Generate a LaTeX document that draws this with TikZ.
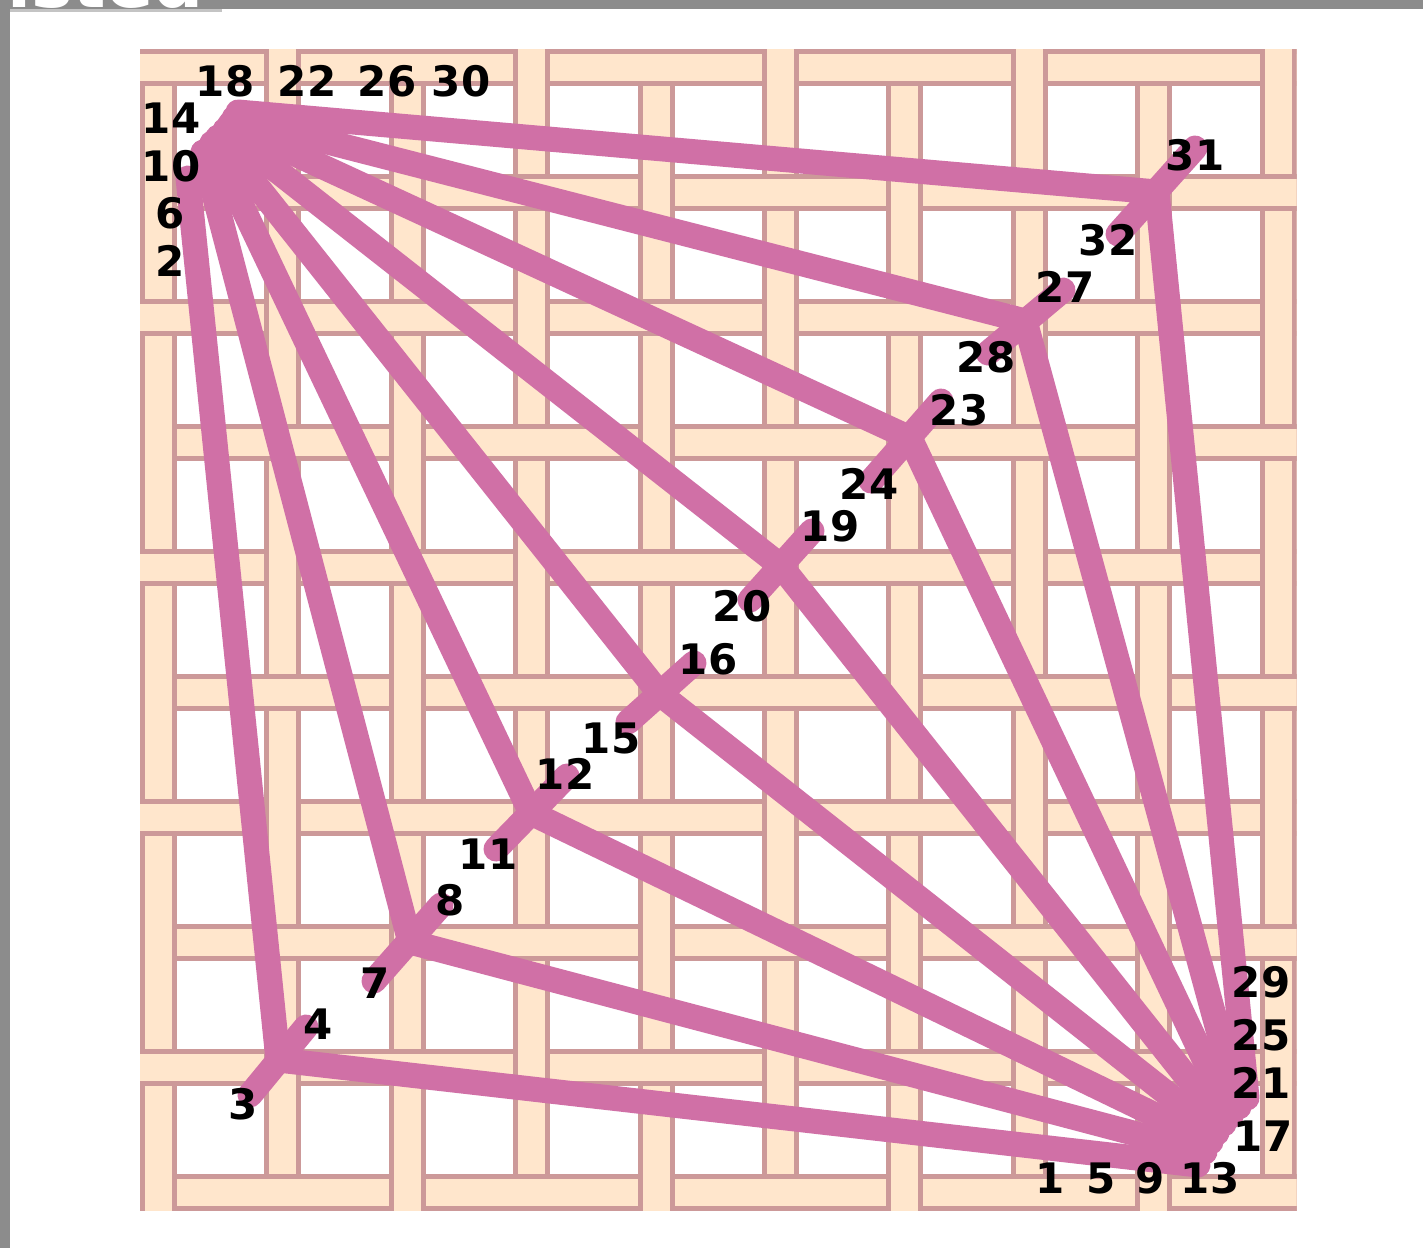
\documentclass[tikz,border=0pt]{standalone}
\usepackage{fontspec}
\setmainfont{DejaVu Sans}
\definecolor{cream}{HTML}{FFE6CC}
\definecolor{strand}{HTML}{CC9999}
\definecolor{pinkl}{HTML}{D070A6}
\definecolor{framegray}{HTML}{8C8C8C}
\definecolor{shadowgray}{HTML}{C4C4C4}
\begin{document}
\begin{tikzpicture}[x=1pt,y=-1pt,
  ray/.style={draw=pinkl, line width=25pt, line cap=round},
  lbl/.style={font=\bfseries\fontsize{42}{42}\selectfont, inner sep=0pt, text=black},
  ttlfont/.style={font=\bfseries\fontsize{70}{70}\selectfont, inner sep=0pt, anchor=base west},
  stripfill/.style={fill=cream},
  stripedge/.style={fill=strand}]
\useasboundingbox (0,0) rectangle (1423,1248);
\fill[white] (0,0) rectangle (1423,1248);
% window frame with the cut-off title
\begin{scope}
  \clip (0,0) rectangle (1423,1248);
  \fill[shadowgray] (10,9) rectangle (222,12);
  \fill[framegray] (0,0) rectangle (1423,9);
  \fill[framegray] (0,0) rectangle (10,1248);
  \node[ttlfont, text=white] (ttl) at (7,7) {isted};
\end{scope}
% woven lattice
\begin{scope}
  \clip (140,49) rectangle (1296.6,1211);
  \foreach \j in {0,...,9} {
    \pgfmathsetmacro\yy{49+125*\j}
    \fill[stripfill] (140,\yy) rectangle (1297,\yy+37);
    \fill[stripedge] (140,\yy) rectangle (1297,\yy+5);
    \fill[stripedge] (140,\yy+32) rectangle (1297,\yy+37);
  }
  \foreach \i in {0,...,9} {
    \pgfmathsetmacro\xx{140+124.4*\i}
    \fill[stripfill] (\xx,49) rectangle (\xx+37,1211);
    \fill[stripedge] (\xx,49) rectangle (\xx+5,1211);
    \fill[stripedge] (\xx+32,49) rectangle (\xx+37,1211);
  }
  \foreach \i in {0,...,9} {
    \foreach \j in {0,...,9} {
      \pgfmathtruncatemacro\myparity{mod(\i+\j,2)}
      \ifnum\myparity=0
        \pgfmathsetmacro\xx{140+124.4*\i}
        \pgfmathsetmacro\yy{49+125*\j}
        \fill[stripfill] (\xx,\yy+5) rectangle (\xx+37,\yy+32);
        \fill[stripedge] (\xx,\yy) rectangle (\xx+37,\yy+5);
        \fill[stripedge] (\xx,\yy+32) rectangle (\xx+37,\yy+37);
      \fi
    }
  }
\end{scope}
% hub and junction points
\coordinate (S1) at (188,178);
\coordinate (S2) at (203,152);
\coordinate (S3) at (212,143);
\coordinate (S4) at (218,137);
\coordinate (S5) at (225,130);
\coordinate (S6) at (230,124);
\coordinate (S7) at (234,118);
\coordinate (S8) at (238,112);
\coordinate (J1) at (278,1060);
\coordinate (J2) at (410,942);
\coordinate (J3) at (531,813);
\coordinate (J4) at (660,694);
\coordinate (J5) at (781,566);
\coordinate (J6) at (910,438);
\coordinate (J7) at (1025,321);
\coordinate (J8) at (1157,192);
\coordinate (E1) at (1198,1165);
\coordinate (E2) at (1205,1152);
\coordinate (E3) at (1211,1142);
\coordinate (E4) at (1217,1133);
\coordinate (E5) at (1224,1124);
\coordinate (E6) at (1231,1116);
\coordinate (E7) at (1239,1107);
\coordinate (E8) at (1247,1098);
\coordinate (A1) at (250,1095);
\coordinate (B1) at (306,1027);
\coordinate (A2) at (374,981);
\coordinate (B2) at (441,905);
\coordinate (A3) at (496,849);
\coordinate (B3) at (567,776);
\coordinate (A4) at (628,722);
\coordinate (B4) at (694,663);
\coordinate (A5) at (750,600);
\coordinate (B5) at (812,531);
\coordinate (A6) at (871,481);
\coordinate (B6) at (941,401);
\coordinate (A7) at (988,353);
\coordinate (B7) at (1063,290);
\coordinate (A8) at (1118,234);
\coordinate (B8) at (1195,148);
\foreach \k in {1,...,8} {
  \draw[ray] (S\k) -- (J\k);
  \draw[ray] (J\k) -- (E\k);
  \draw[ray] (A\k) -- (B\k);
}
% labels
\node[lbl] (l18) at (225,81) {18};
\node[lbl] (l22) at (307,81) {22};
\node[lbl] (l26) at (387,81) {26};
\node[lbl] (l30) at (461,81) {30};
\node[lbl] (l14) at (171,118) {14};
\node[lbl] (l10) at (171,166) {10};
\node[lbl] (l6) at (170,213) {6};
\node[lbl] (l2) at (170,261) {2};
\node[lbl] (l1) at (1050,1178) {1};
\node[lbl] (l5) at (1101,1178) {5};
\node[lbl] (l9) at (1150,1178) {9};
\node[lbl] (l13) at (1210,1178) {13};
\node[lbl] (l29) at (1261,982) {29};
\node[lbl] (l25) at (1261,1035) {25};
\node[lbl] (l21) at (1261,1083) {21};
\node[lbl] (l17) at (1263,1136) {17};
\node[lbl] (l3) at (243,1104) {3};
\node[lbl] (l4) at (318,1024) {4};
\node[lbl] (l7) at (375,983) {7};
\node[lbl] (l8) at (450,900) {8};
\node[lbl] (l11) at (488,854) {11};
\node[lbl] (l12) at (565,774) {12};
\node[lbl] (l15) at (611,738) {15};
\node[lbl] (l16) at (708,659) {16};
\node[lbl] (l19) at (830,526) {19};
\node[lbl] (l20) at (742,606) {20};
\node[lbl] (l23) at (959,410) {23};
\node[lbl] (l24) at (869,484) {24};
\node[lbl] (l27) at (1065,287) {27};
\node[lbl] (l28) at (986,357) {28};
\node[lbl] (l31) at (1195,155) {31};
\node[lbl] (l32) at (1108,240) {32};
\end{tikzpicture}
\end{document}
